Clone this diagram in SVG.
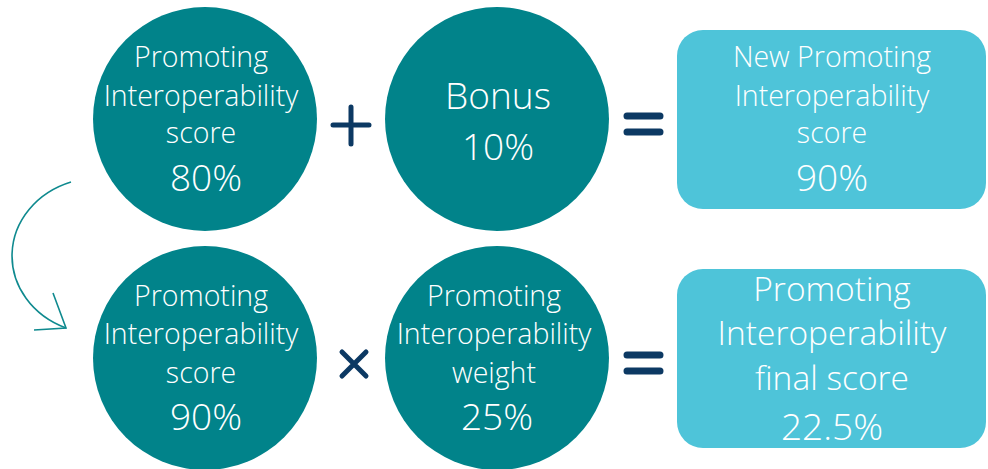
<svg xmlns="http://www.w3.org/2000/svg" width="988" height="469" viewBox="0 0 988 469">
  <style>
    .circle { fill: #01838A; }
    .box { fill: #4EC4D9; }
    .t { font-family: "Open Sans", "Liberation Sans", sans-serif; font-weight: 300; fill: #ffffff; text-anchor: middle; }
    .s { font-size: 28.5px; }
    .m { font-size: 37px; }
    .l { font-size: 33.5px; }
    .op { stroke: #0C3963; fill: none; stroke-linecap: round; }
    .link { stroke: #0F8A8F; fill: none; stroke-width: 1.6; }
  </style>

  <!-- top row: score + bonus = new score -->
  <g id="pi-score-80">
    <circle class="circle" cx="205" cy="119" r="112"/>
    <text class="t s" x="201" y="67">Promoting</text>
    <text class="t s" x="201" y="106">Interoperability</text>
    <text class="t s" x="201" y="143">score</text>
    <text class="t m" x="206" y="191">80%</text>
  </g>

  <g id="op-plus">
    <path class="op" stroke-width="5" d="M351,107 V144 M333,125 H369"/>
  </g>

  <g id="bonus-10">
    <circle class="circle" cx="497" cy="119" r="112"/>
    <text class="t m" x="498" y="109">Bonus</text>
    <text class="t m" x="498" y="160">10%</text>
  </g>

  <g id="op-equals-top">
    <path class="op" stroke-width="7" d="M627,116 H660 M627,132 H660"/>
  </g>

  <g id="new-pi-score">
    <rect class="box" x="677" y="30" width="309" height="179" rx="26"/>
    <text class="t s" x="832" y="67">New Promoting</text>
    <text class="t s" x="832" y="106">Interoperability</text>
    <text class="t s" x="832" y="143">score</text>
    <text class="t m" x="832" y="191">90%</text>
  </g>

  <!-- bottom row: score x weight = final score -->
  <g id="pi-score-90">
    <circle class="circle" cx="205" cy="358" r="112"/>
    <text class="t s" x="201" y="306">Promoting</text>
    <text class="t s" x="201" y="344">Interoperability</text>
    <text class="t s" x="201" y="383">score</text>
    <text class="t m" x="206" y="430">90%</text>
  </g>

  <g id="op-times">
    <path class="op" stroke-width="5" d="M342,352 L366,376 M366,352 L342,376"/>
  </g>

  <g id="pi-weight-25">
    <circle class="circle" cx="497" cy="358" r="112"/>
    <text class="t s" x="494" y="306">Promoting</text>
    <text class="t s" x="494" y="344">Interoperability</text>
    <text class="t s" x="494" y="383">weight</text>
    <text class="t m" x="497" y="430">25%</text>
  </g>

  <g id="op-equals-bottom">
    <path class="op" stroke-width="7" d="M627,355 H660 M627,371 H660"/>
  </g>

  <g id="pi-final-score">
    <rect class="box" x="677" y="269" width="309" height="179" rx="26"/>
    <text class="t l" x="832" y="301">Promoting</text>
    <text class="t l" x="832" y="345">Interoperability</text>
    <text class="t l" x="832" y="390">final score</text>
    <text class="t m" x="832" y="440">22.5%</text>
  </g>

  <!-- curved arrow carrying the new score down to the second row -->
  <g id="connectors">
    <path class="link" d="M71,182 A87,78 0 0 0 66,328"/>
    <path class="link" d="M53,293 L66,328 L34,330"/>
  </g>
</svg>
